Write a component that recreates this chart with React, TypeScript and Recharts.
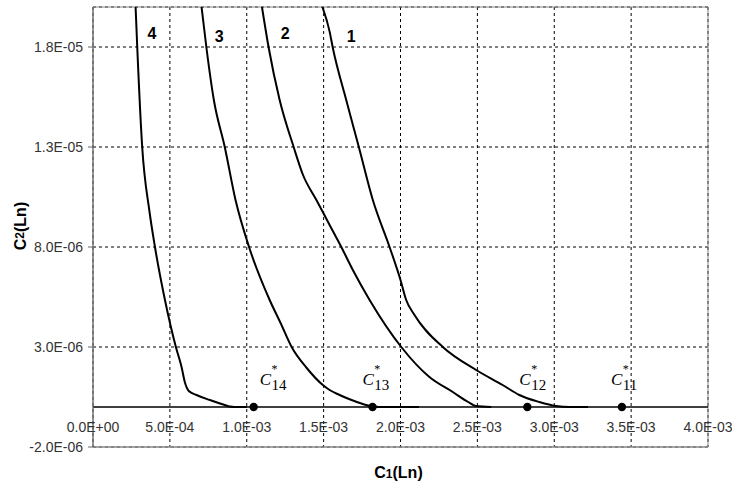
import React from 'react';
import {
  ComposedChart,
  Line,
  XAxis,
  YAxis,
  CartesianGrid,
  ReferenceLine,
  ReferenceArea,
  ReferenceDot,
  Scatter,
} from 'recharts';

// ---- data ----
const xTicks = [0, 0.0005, 0.001, 0.0015, 0.002, 0.0025, 0.003, 0.0035, 0.004];
const yTicks = [-2e-6, 3e-6, 8e-6, 1.3e-5, 1.8e-5];

const curve1 = [
  { x: 1.492e-3, y: 2.0e-5 },
  { x: 1.539e-3, y: 1.877e-5 },
  { x: 1.56e-3, y: 1.795e-5 },
  { x: 1.647e-3, y: 1.535e-5 },
  { x: 1.729e-3, y: 1.3e-5 },
  { x: 1.82e-3, y: 1.035e-5 },
  { x: 1.929e-3, y: 8.0e-6 },
  { x: 2.0e-3, y: 6.35e-6 },
  { x: 2.037e-3, y: 5.35e-6 },
  { x: 2.091e-3, y: 4.6e-6 },
  { x: 2.275e-3, y: 3.0e-6 },
  { x: 2.492e-3, y: 1.85e-6 },
  { x: 2.664e-3, y: 1.1e-6 },
  { x: 2.773e-3, y: 6.0e-7 },
  { x: 2.903e-3, y: 2.5e-7 },
  { x: 3.011e-3, y: 5e-8 },
  { x: 3.1e-3, y: 0 },
  { x: 3.22e-3, y: 0 },
];

const curve2 = [
  { x: 1.099e-3, y: 2.0e-5 },
  { x: 1.143e-3, y: 1.795e-5 },
  { x: 1.214e-3, y: 1.535e-5 },
  { x: 1.305e-3, y: 1.3e-5 },
  { x: 1.366e-3, y: 1.16e-5 },
  { x: 1.453e-3, y: 1.035e-5 },
  { x: 1.539e-3, y: 9.1e-6 },
  { x: 1.615e-3, y: 8.0e-6 },
  { x: 1.69e-3, y: 6.85e-6 },
  { x: 1.799e-3, y: 5.35e-6 },
  { x: 2.005e-3, y: 3.0e-6 },
  { x: 2.188e-3, y: 1.5e-6 },
  { x: 2.34e-3, y: 7.5e-7 },
  { x: 2.44e-3, y: 2.5e-7 },
  { x: 2.49e-3, y: 5e-8 },
  { x: 2.59e-3, y: 0 },
];

const curve3 = [
  { x: 0.706e-3, y: 2.0e-5 },
  { x: 0.738e-3, y: 1.795e-5 },
  { x: 0.786e-3, y: 1.535e-5 },
  { x: 0.857e-3, y: 1.3e-5 },
  { x: 0.927e-3, y: 1.035e-5 },
  { x: 1.015e-3, y: 8.0e-6 },
  { x: 1.149e-3, y: 5.35e-6 },
  { x: 1.22e-3, y: 4.2e-6 },
  { x: 1.292e-3, y: 3.0e-6 },
  { x: 1.39e-3, y: 1.95e-6 },
  { x: 1.495e-3, y: 1.1e-6 },
  { x: 1.539e-3, y: 8.5e-7 },
  { x: 1.604e-3, y: 6.0e-7 },
  { x: 1.669e-3, y: 3.85e-7 },
  { x: 1.755e-3, y: 1.5e-7 },
  { x: 1.818e-3, y: 2.5e-8 },
  { x: 1.864e-3, y: 0 },
  { x: 2.12e-3, y: 0 },
];

const curve4 = [
  { x: 0.277e-3, y: 2.0e-5 },
  { x: 0.288e-3, y: 1.795e-5 },
  { x: 0.32e-3, y: 1.3e-5 },
  { x: 0.366e-3, y: 9.85e-6 },
  { x: 0.403e-3, y: 8.0e-6 },
  { x: 0.468e-3, y: 5.35e-6 },
  { x: 0.539e-3, y: 3.0e-6 },
  { x: 0.576e-3, y: 2.0e-6 },
  { x: 0.597e-3, y: 1.25e-6 },
  { x: 0.623e-3, y: 8.0e-7 },
  { x: 0.673e-3, y: 6.0e-7 },
  { x: 0.76e-3, y: 3.5e-7 },
  { x: 0.857e-3, y: 1.0e-7 },
  { x: 0.89e-3, y: 2.5e-8 },
  { x: 0.92e-3, y: 0 },
  { x: 1.0e-3, y: 0 },
];

const criticalPoints = [
  { x: 1.045e-3, y: 0, name: '14' },
  { x: 1.818e-3, y: 0, name: '13' },
  { x: 2.825e-3, y: 0, name: '12' },
  { x: 3.44e-3, y: 0, name: '11' },
];

const curveLabels = [
  { x: 3.83e-4, y: 1.8675e-5, text: '4' },
  { x: 8.21e-4, y: 1.8525e-5, text: '3' },
  { x: 1.25e-3, y: 1.87e-5, text: '2' },
  { x: 1.679e-3, y: 1.8525e-5, text: '1' },
];

// ---- styling ----
const labelShift: Record<string, number> = { '14': 6, '13': -10, '12': -8, '11': -11 };
const SANS = 'Liberation Sans, Arial, sans-serif';
const SERIF = 'Liberation Serif, Times New Roman, serif';

const fmt = (v: number) => {
  const [m, e] = v.toExponential(1).split('e');
  const n = parseInt(e, 10);
  return `${m}E${n < 0 ? '-' : '+'}${String(Math.abs(n)).padStart(2, '0')}`;
};

const XTick = (props: any) => {
  const { x, y, payload } = props;
  return (
    <text x={x} y={y - 15} textAnchor="middle" fontSize={14} fill="#333" fontFamily={SANS}>
      {fmt(payload.value)}
    </text>
  );
};

const PointShape = (props: any) => {
  const { cx, cy, payload } = props;
  const dx = labelShift[payload.name] ?? 0;
  const lx = cx + dx;
  return (
    <g>
      <circle cx={cx} cy={cy} r={4.2} fill="#000" />
      <text x={lx} y={cy - 22} fontFamily={SERIF} fill="#000" fontSize={17} fontStyle="italic">
        C
      </text>
      <text x={lx + 11.8} y={cy - 34} fontFamily={SERIF} fill="#000" fontSize={12}>
        *
      </text>
      <text x={lx + 11.8} y={cy - 17} fontFamily={SERIF} fill="#000" fontSize={15}>
        {payload.name}
      </text>
    </g>
  );
};

const XTitle = (props: any) => {
  const vb = props.viewBox || { x: 93, y: 447, width: 615, height: 37 };
  return (
    <text x={vb.x + vb.width / 2 - 2} y={vb.y + 31} textAnchor="middle" fontFamily={SANS} fontWeight="bold" fontSize={16} fill="#000">
      C<tspan fontSize={12}>1</tspan>(Ln)
    </text>
  );
};

const YTitle = (props: any) => {
  const vb = props.viewBox || { x: 0, y: 7, width: 93, height: 440 };
  const cx = 20;
  const cy = vb.y + vb.height / 2 - 1;
  return (
    <text
      x={cx}
      y={cy}
      transform={`rotate(-90 ${cx} ${cy})`}
      textAnchor="middle"
      dominantBaseline="central"
      fontFamily={SANS}
      fontWeight="bold"
      fontSize={16}
      fill="#000"
    >
      C<tspan fontSize={12}>2</tspan>(Ln)
    </text>
  );
};

export default function App() {
  return (
    <div style={{ position: 'absolute', left: 0, top: 0, fontFamily: SANS, background: '#fff' }}>
      <ComposedChart width={732} height={484} margin={{ top: 7, right: 24, bottom: 0, left: 0 }}>
        <CartesianGrid stroke="#000" strokeDasharray="3 3" strokeWidth={1} />
        <XAxis
          type="number"
          dataKey="x"
          domain={[0, 0.004]}
          ticks={xTicks}
          allowDataOverflow
          height={37}
          tickSize={0}
          tickMargin={0}
          tickLine={false}
          axisLine={{ stroke: '#888' }}
          tick={<XTick />}
          label={{ content: (p: any) => <XTitle {...p} /> }}
        />
        <YAxis
          type="number"
          dataKey="y"
          domain={[-2e-6, 2e-5]}
          ticks={yTicks}
          allowDataOverflow
          width={93}
          tickSize={5}
          tickMargin={5}
          tickFormatter={fmt}
          tick={{ fontSize: 14, fill: '#333', fontFamily: SANS }}
          tickLine={{ stroke: '#666' }}
          axisLine={{ stroke: '#666' }}
          label={{ content: (p: any) => <YTitle {...p} /> }}
        />
        <ReferenceArea x1={0} x2={0.004} y1={-2e-6} y2={2e-5} fill="none" stroke="#888" strokeWidth={1} />
        <ReferenceLine y={0} stroke="#000" strokeWidth={1.5} />
        <Line data={curve1} dataKey="y" type="monotone" stroke="#000" strokeWidth={2} dot={false} isAnimationActive={false} />
        <Line data={curve2} dataKey="y" type="monotone" stroke="#000" strokeWidth={2} dot={false} isAnimationActive={false} />
        <Line data={curve3} dataKey="y" type="monotone" stroke="#000" strokeWidth={2} dot={false} isAnimationActive={false} />
        <Line data={curve4} dataKey="y" type="monotone" stroke="#000" strokeWidth={2} dot={false} isAnimationActive={false} />
        <Scatter data={criticalPoints} dataKey="y" shape={<PointShape />} isAnimationActive={false} />
        {curveLabels.map((c) => (
          <ReferenceDot
            key={c.text}
            x={c.x}
            y={c.y}
            r={0}
            stroke="none"
            fill="none"
            label={{ value: c.text, position: 'center', fontSize: 16, fontWeight: 'bold', fill: '#000', fontFamily: SANS }}
          />
        ))}
      </ComposedChart>
    </div>
  );
}
